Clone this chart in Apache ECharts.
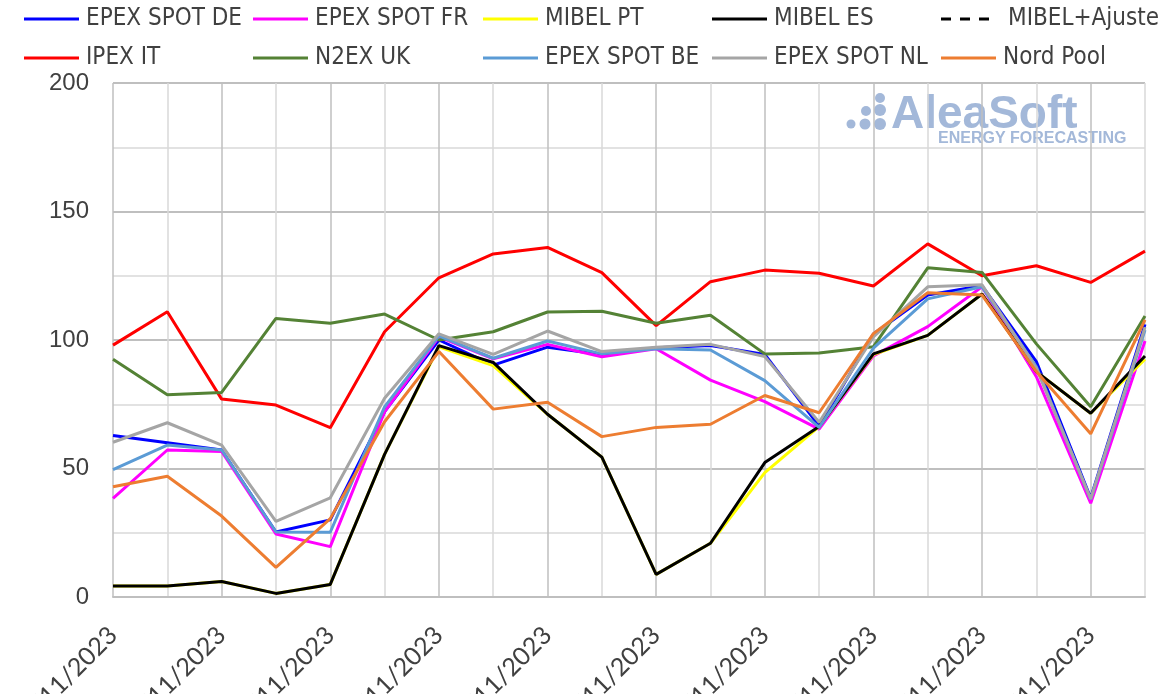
<!DOCTYPE html>
<html>
<head>
    <meta charset="UTF-8">
    <title>Precios mercados eléctricos</title>
    <script src="https://cdn.jsdelivr.net/npm/echarts@6/dist/echarts.min.js"></script>
    <style>
        html, body {margin: 0; padding: 0; background: #fff;}
        #main {width: 1170px; height: 694px;}
    </style>
</head>
<body>
<div id="main"></div>
<script>
    // fechas (eje x)
    var dias = ['01/11/2023', '02/11/2023', '03/11/2023', '04/11/2023', '05/11/2023',
        '06/11/2023', '07/11/2023', '08/11/2023', '09/11/2023', '10/11/2023',
        '11/11/2023', '12/11/2023', '13/11/2023', '14/11/2023', '15/11/2023',
        '16/11/2023', '17/11/2023', '18/11/2023', '19/11/2023', '20/11/2023'];

    // precios por mercado
    var epexDE = [62.8, 60.0, 57.2, 25.3, 30.0, 72.1, 100.0, 90.2, 97.2, 94.4, 97.0, 97.9, 94.4, 66.5, 102.3, 117.5, 121.1, 91.6, 38.5, 106.1];
    var epexFR = [38.4, 57.2, 56.6, 24.5, 19.6, 72.0, 101.2, 92.7, 98.3, 93.5, 96.6, 84.4, 76.0, 65.3, 93.8, 105.2, 120.7, 85.7, 36.5, 99.6];
    var mibelPT = [4.3, 4.3, 6.0, 1.4, 4.9, 55.5, 97.3, 90.0, 71.1, 54.4, 8.8, 20.9, 48.4, 66.3, 94.3, 101.8, 117.9, 87.7, 71.5, 92.5];
    var mibelES = [4.3, 4.3, 6.0, 1.4, 4.9, 55.5, 97.8, 91.3, 71.1, 54.4, 8.8, 20.9, 52.3, 66.3, 94.6, 101.8, 117.9, 87.7, 71.5, 93.8];
    var mibelAjuste = [];
    var ipexIT = [98.0, 111.0, 77.0, 74.7, 65.9, 103.2, 124.2, 133.5, 136.0, 126.2, 105.6, 122.7, 127.2, 126.0, 121.0, 137.4, 125.0, 128.9, 122.4, 134.6];
    var n2exUK = [92.5, 78.7, 79.6, 108.4, 106.5, 110.1, 100.0, 103.2, 110.9, 111.2, 106.5, 109.6, 94.6, 94.9, 97.4, 128.1, 126.3, 98.5, 74.0, 109.3];
    var epexBE = [49.6, 59.1, 57.2, 25.3, 25.2, 74.0, 101.6, 92.9, 99.6, 94.6, 96.6, 96.1, 84.2, 66.0, 96.8, 116.0, 120.7, 89.6, 38.0, 103.9];
    var epexNL = [60.2, 67.8, 59.1, 29.4, 38.6, 77.3, 102.4, 94.4, 103.5, 95.5, 97.2, 98.3, 93.6, 68.0, 101.2, 120.7, 121.5, 89.0, 38.2, 105.0];
    var nordPool = [42.9, 47.0, 31.5, 11.5, 30.5, 68.2, 95.5, 73.1, 75.8, 62.4, 66.0, 67.2, 78.4, 71.7, 102.5, 118.4, 117.5, 87.7, 63.5, 107.8];

    var nombres = ['EPEX SPOT DE', 'EPEX SPOT FR', 'MIBEL PT', 'MIBEL ES', 'MIBEL+Ajuste',
        'IPEX IT', 'N2EX UK', 'EPEX SPOT BE', 'EPEX SPOT NL', 'Nord Pool'];
    var datos = [epexDE, epexFR, mibelPT, mibelES, mibelAjuste, ipexIT, n2exUK, epexBE, epexNL, nordPool];
    var colores = ['#0000ff', '#ff00ff', '#ffff00', '#000000', '#000000',
        '#ff0000', '#548235', '#5b9bd5', '#a5a5a5', '#ed7d31'];

    var legendFont = '"Liberation Sans Narrow", "DejaVu Sans Condensed", sans-serif';
    var colX = [24, 253, 483, 712, 941];
    // icono discontinuo para MIBEL+Ajuste
    var iconoDash = 'path://M0,0h10v3h-10z M19,0h10v3h-10z M38,0h10v3h-10z';

    var legends = nombres.map(function (n, i) {
        return {
            data: [n],
            left: colX[i % 5],
            top: i < 5 ? 7 : 46,
            icon: i === 4 ? iconoDash : 'rect',
            itemWidth: i === 4 ? 48 : 55,
            itemHeight: 3,
            itemGap: 0,
            padding: 0,
            textStyle: {fontFamily: legendFont, fontSize: 24, color: '#404040', padding: [0, 0, 0, i === 4 ? 14 : 2]}
        };
    });

    var series = nombres.map(function (n, i) {
        return {
            name: n,
            type: 'line',
            data: datos[i],
            symbol: 'none',
            animation: false,
            lineStyle: {color: colores[i], width: 3, type: i === 4 ? [10, 8] : 'solid'},
            itemStyle: {color: colores[i]}
        };
    });

    var myChart = echarts.init(document.getElementById('main'));
    myChart.setOption({
        animation: false,
        legend: legends,
        grid: {left: 113, right: 25, top: 83, bottom: 97, outerBoundsMode: 'none', containLabel: false},
        xAxis: {
            type: 'category',
            boundaryGap: false,
            data: dias,
            axisLine: {show: true, lineStyle: {color: '#bfbfbf', width: 2}},
            axisTick: {show: false},
            axisLabel: {
                interval: 1,
                rotate: 45,
                margin: 34,
                fontFamily: 'Lato, "Open Sans", sans-serif',
                fontSize: 25,
                color: '#404040'
            },
            splitLine: {show: true, interval: 0, lineStyle: {color: ['#bfbfbf', '#d9d9d9'], width: 1.5}}
        },
        yAxis: {
            type: 'value',
            min: 0,
            max: 200,
            interval: 50,
            axisLine: {show: false},
            axisTick: {show: false},
            axisLabel: {fontFamily: '"Liberation Sans", sans-serif', fontSize: 24, color: '#404040', margin: 24},
            splitLine: {lineStyle: {color: '#bfbfbf', width: 2}},
            minorTick: {show: false, splitNumber: 2},
            minorSplitLine: {show: true, lineStyle: {color: '#d9d9d9', width: 1.5}}
        },
        graphic: [
            {type: 'circle', shape: {cx: 851, cy: 124, r: 4.5}, style: {fill: '#a3b8d9'}},
            {type: 'circle', shape: {cx: 865, cy: 124, r: 5.5}, style: {fill: '#a3b8d9'}},
            {type: 'circle', shape: {cx: 880, cy: 124, r: 6}, style: {fill: '#a3b8d9'}},
            {type: 'circle', shape: {cx: 866, cy: 111, r: 5}, style: {fill: '#a3b8d9'}},
            {type: 'circle', shape: {cx: 880, cy: 110, r: 6}, style: {fill: '#a3b8d9'}},
            {type: 'circle', shape: {cx: 880, cy: 98, r: 5}, style: {fill: '#a3b8d9'}},
            {
                type: 'text', left: 891, top: 92,
                style: {text: 'AleaSoft', fill: '#a3b8d9', font: 'bold 46px "Liberation Sans", sans-serif'}
            },
            {
                type: 'text', left: 938, top: 131,
                style: {text: 'ENERGY FORECASTING', fill: '#a3b8d9', font: 'bold 16px "Liberation Sans", sans-serif'}
            }
        ],
        series: series
    });
</script>
</body>
</html>
